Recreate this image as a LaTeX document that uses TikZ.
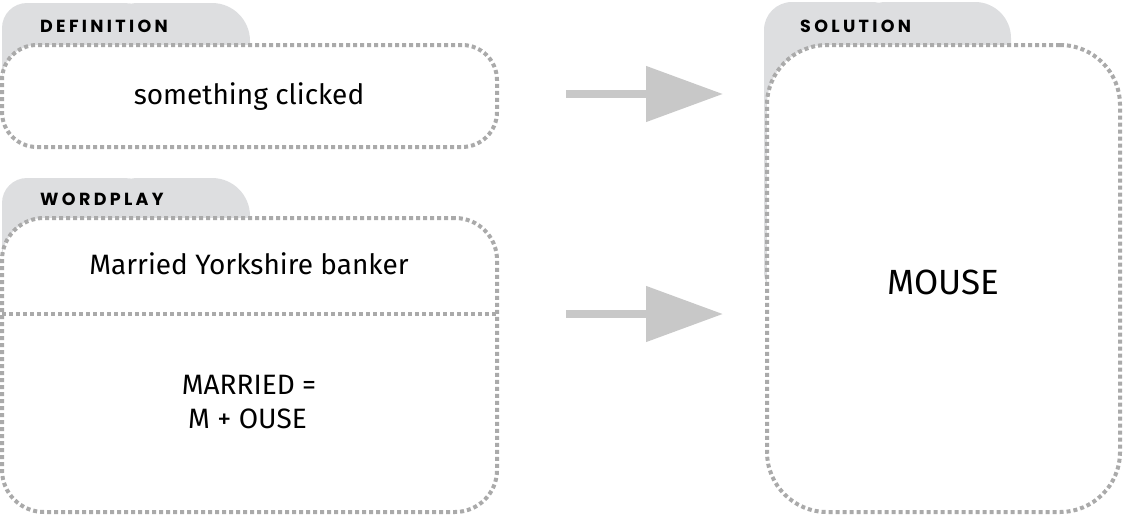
\documentclass[tikz,border=0pt]{standalone}
\usepackage{fontspec}
\setmainfont{Fira Sans}
\newfontfamily\tabfont[LetterSpace=19]{Poppins}
\usetikzlibrary{arrows.meta}
\definecolor{tabgrey}{RGB}{221,222,224}
\definecolor{dotgrey}{RGB}{170,170,170}
\definecolor{arrowgrey}{RGB}{200,200,200}
\begin{document}
\begin{tikzpicture}[x=1pt,y=-1pt,
  box/.style={draw=dotgrey, line width=4pt, dash pattern=on 4pt off 3pt, fill=white, inner sep=0pt, outer sep=0pt},
  dotline/.style={draw=dotgrey, line width=4pt, dash pattern=on 4pt off 3pt},
  tabtext/.style={anchor=base west, inner sep=0pt, font=\tabfont\bfseries\fontsize{17.5}{17.5}\selectfont},
  body/.style={anchor=base, inner sep=0pt, font=\fontsize{28}{34}\selectfont},
  big/.style={anchor=base, inner sep=0pt, font=\fontsize{35}{40}\selectfont},
  flow/.style={draw=arrowgrey, line width=8pt, -{Triangle[length=77pt,width=54pt]}}
]
\useasboundingbox (0,0) rectangle (1123,514);
% tabs
\fill[tabgrey, rounded corners=25pt] (2,3) rectangle (150,110);
\fill[tabgrey, rounded corners=38pt] (100,3) rectangle (250,110);
\fill[tabgrey, rounded corners=25pt] (2,178) rectangle (150,300);
\fill[tabgrey, rounded corners=38pt] (100,178) rectangle (250,300);
\fill[tabgrey, rounded corners=28pt] (764,2) rectangle (900,300);
\fill[tabgrey, rounded corners=36pt] (850,2) rectangle (1011,300);
% tab labels
\node[tabtext] (deflabel) at (40,32) {DEFINITION};
\node[tabtext] (wplabel) at (40,205) {WORDPLAY};
\node[tabtext] (sollabel) at (800,32) {SOLUTION};
% boxes
\node[box, rounded corners=35pt, minimum width=495pt, minimum height=102pt] (def) at (249.5,96) {};
\node[box, rounded corners=42pt, minimum width=495pt, minimum height=294pt] (wp) at (249.5,365) {};
\node[box, rounded corners=60pt, minimum width=353pt, minimum height=467pt] (sol) at (943.5,278.5) {};
% divider
\coordinate (divL) at (2,314);
\coordinate (divR) at (497,314);
\draw[dotline] (divL) -- (divR);
% texts
\node[body] (deftext) at (249,104) {something clicked};
\node[body] (wptext) at (249,274) {Married Yorkshire banker};
\node[body] (wpline1) at (249,394) {MARRIED =};
\node[body] (wpline2) at (247.5,428) {M + OUSE};
\node[big] (soltext) at (943.5,294) {MOUSE};
% arrows
\coordinate (a1s) at (566,94);
\coordinate (a1e) at (723,94);
\coordinate (a2s) at (566,314);
\coordinate (a2e) at (723,314);
\draw[flow] (a1s) -- (a1e);
\draw[flow] (a2s) -- (a2e);
\end{tikzpicture}
\end{document}
